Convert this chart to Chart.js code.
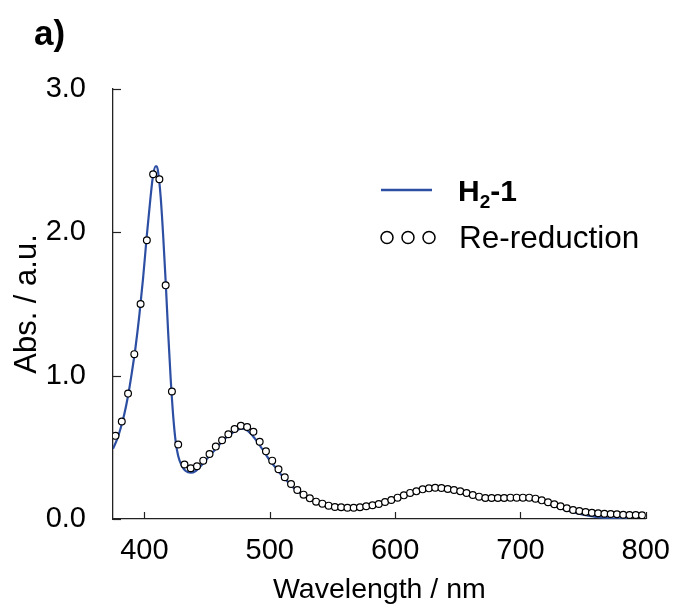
<!DOCTYPE html>
<html>
<head>
<meta charset="utf-8">
<script src="https://cdn.jsdelivr.net/npm/chart.js@4.4.1/dist/chart.umd.min.js"></script>
<style>
  html, body { margin: 0; padding: 0; background: #ffffff; }
  #wrap { width: 677px; height: 610px; position: relative; }
</style>
</head>
<body>
<div id="wrap"><canvas id="c" width="677" height="610"></canvas></div>
<script>
// ---- Data ----
const lineWavelengths = [375,378,381,384,387,390,393,396,399,402,405,407,409,410,411,413,415,417,419,421,423,425,427,430,433,437,441,445,450,455,460,465,470,475,478,481,485,490,495,500,505,510,515,520,525,530,535,540,545,550,555,560,565,570,575,580,585,590,595,600,605,610,615,620,625,630,635,640,645,650,655,660,665,670,675,680,685,690,695,700,705,710,715,720,725,730,735,740,745,750,755,760,765,770,775,780,785];
const lineAbs = [0.49,0.55,0.63,0.73,0.86,1.02,1.20,1.42,1.68,1.98,2.25,2.40,2.46,2.46,2.42,2.25,1.98,1.66,1.30,0.98,0.72,0.54,0.44,0.37,0.335,0.323,0.335,0.37,0.42,0.47,0.52,0.565,0.60,0.625,0.63,0.625,0.595,0.54,0.475,0.41,0.355,0.30,0.255,0.21,0.175,0.148,0.125,0.108,0.095,0.085,0.08,0.077,0.077,0.08,0.086,0.094,0.103,0.115,0.13,0.143,0.158,0.173,0.186,0.198,0.207,0.212,0.212,0.207,0.20,0.19,0.178,0.165,0.154,0.145,0.142,0.141,0.142,0.143,0.144,0.144,0.143,0.137,0.125,0.11,0.095,0.08,0.065,0.052,0.04,0.03,0.022,0.015,0.01,0.006,0.003,0.001,0.0];

const circleWavelengths = [377,382,387,392,397,402,407,412,417,422,427,432,437,442,447,452,457,462,467,472,477,482,487,492,497,502,507,512,517,522,527,532,537,542,547,552,557,562,567,572,577,582,587,592,597,602,607,612,617,622,627,632,637,642,647,652,657,662,667,672,677,682,687,692,697,702,707,712,717,722,727,732,737,742,747,752,757,762,767,772,777,782,787,792,797];
const circleAbs = [0.58,0.68,0.875,1.15,1.50,1.945,2.405,2.37,1.63,0.89,0.52,0.38,0.354,0.368,0.407,0.454,0.505,0.549,0.591,0.628,0.651,0.642,0.609,0.539,0.472,0.407,0.347,0.291,0.244,0.202,0.170,0.144,0.121,0.107,0.093,0.084,0.082,0.079,0.079,0.082,0.089,0.096,0.105,0.119,0.133,0.149,0.165,0.182,0.193,0.207,0.214,0.218,0.216,0.209,0.202,0.193,0.181,0.167,0.156,0.147,0.147,0.147,0.147,0.149,0.149,0.149,0.149,0.142,0.130,0.117,0.103,0.089,0.075,0.063,0.056,0.049,0.044,0.040,0.037,0.035,0.033,0.030,0.028,0.028,0.026];

const xTickValues = [400, 500, 600, 700, 800];
const yTickValues = [0, 1, 2, 3];
const seriesNames = ['H2-1', 'Re-reduction'];
const panelLabel = 'a)';
const xTitle = 'Wavelength / nm';
const yTitle = 'Abs. / a.u.';

const FONT = "'Liberation Sans', Arial, Helvetica, sans-serif";
const LINE_COLOR = '#2d4fa3';

const lineData = lineWavelengths.map((w, i) => ({ x: w, y: lineAbs[i] }));
const circleData = circleWavelengths.map((w, i) => ({ x: w, y: circleAbs[i] }));

const extras = {
  id: 'extras',
  afterDraw(chart) {
    const ctx = chart.ctx;
    const xs = chart.scales.x, ys = chart.scales.y;
    const area = chart.chartArea;
    ctx.save();
    // inward ticks
    ctx.strokeStyle = '#222';
    ctx.lineWidth = 1.2;
    xTickValues.forEach(v => {
      const px = Math.round(xs.getPixelForValue(v)) + 0.5;
      ctx.beginPath(); ctx.moveTo(px, area.bottom); ctx.lineTo(px, area.bottom - 7); ctx.stroke();
    });
    yTickValues.forEach(v => {
      const py = Math.round(ys.getPixelForValue(v)) + 0.5;
      ctx.beginPath(); ctx.moveTo(area.left, py); ctx.lineTo(area.left + 8, py); ctx.stroke();
    });
    // panel label
    ctx.fillStyle = '#000';
    ctx.textBaseline = 'alphabetic';
    ctx.textAlign = 'left';
    ctx.font = 'bold 35px ' + FONT;
    ctx.fillText(panelLabel, 34, 45);
    // legend entry 1
    ctx.strokeStyle = LINE_COLOR;
    ctx.lineWidth = 2.5;
    ctx.beginPath(); ctx.moveTo(381, 190); ctx.lineTo(432, 190); ctx.stroke();
    let x = 458;
    ctx.font = 'bold 30px ' + FONT;
    ctx.fillText('H', x, 201);
    x += ctx.measureText('H').width;
    ctx.font = 'bold 19px ' + FONT;
    ctx.fillText('2', x, 208);
    x += ctx.measureText('2').width;
    ctx.font = 'bold 30px ' + FONT;
    ctx.fillText('-1', x, 201);
    // legend entry 2
    ctx.strokeStyle = '#000';
    ctx.lineWidth = 1.5;
    [387, 408, 429].forEach(cx => {
      ctx.beginPath(); ctx.arc(cx, 237.5, 6, 0, Math.PI * 2);
      ctx.fillStyle = '#fff'; ctx.fill(); ctx.stroke();
    });
    ctx.fillStyle = '#000';
    ctx.font = '31.5px ' + FONT;
    ctx.fillText(seriesNames[1], 459, 248);
    ctx.restore();
  }
};

new Chart(document.getElementById('c'), {
  type: 'scatter',
  data: {
    datasets: [
      {
        label: seriesNames[1],
        data: circleData,
        showLine: false,
        pointRadius: 3.4,
        pointBorderWidth: 1.2,
        pointBorderColor: '#000',
        pointBackgroundColor: '#fff',
        order: 0
      },
      {
        label: seriesNames[0],
        data: lineData,
        showLine: true,
        borderColor: LINE_COLOR,
        borderWidth: 2.2,
        pointRadius: 0,
        cubicInterpolationMode: 'monotone',
        order: 1
      }
    ]
  },
  options: {
    responsive: false,
    animation: false,
    devicePixelRatio: 1,
    layout: { padding: { top: 89, right: 19, left: 0, bottom: 0 } },
    plugins: { legend: { display: false }, tooltip: { enabled: false } },
    scales: {
      x: {
        type: 'linear',
        min: 375, max: 800,
        grid: { display: false },
        border: { display: true, color: '#222', width: 1.3 },
        ticks: {
          includeBounds: false,
          stepSize: 100,
          padding: 7,
          color: '#000',
          font: { family: FONT, size: 29 },
          callback: v => String(v)
        },
        title: { display: true, text: xTitle, color: '#000', font: { family: FONT, size: 28.5 }, padding: { top: 0, bottom: 3 } },
        afterFit: s => { s.height = 91; }
      },
      y: {
        type: 'linear',
        min: 0, max: 3,
        grid: { display: false },
        border: { display: true, color: '#222', width: 1.3 },
        ticks: {
          stepSize: 1,
          padding: 19,
          color: '#000',
          font: { family: FONT, size: 29 },
          callback: v => Number(v).toFixed(1)
        },
        title: { display: true, text: yTitle, color: '#000', font: { family: FONT, size: 31 }, padding: { top: 9, bottom: 0 } },
        afterFit: s => { s.width = 113; }
      }
    }
  },
  plugins: [extras]
});
</script>
</body>
</html>
